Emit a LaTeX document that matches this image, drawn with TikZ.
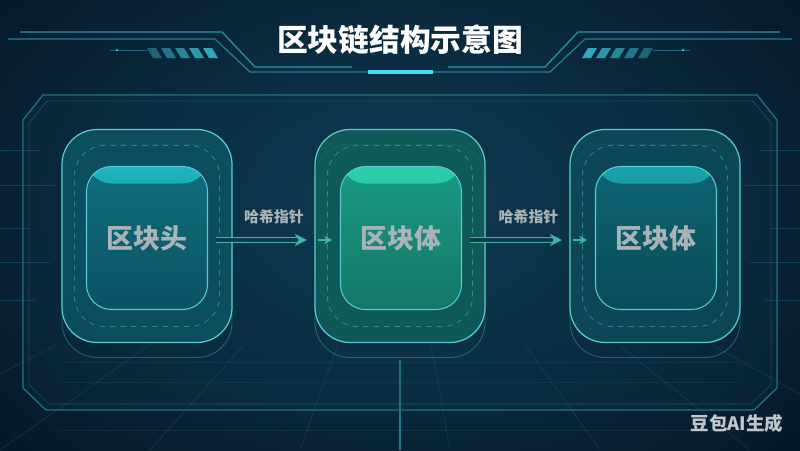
\documentclass[tikz,border=0pt]{standalone}
\usepackage{fontspec}
\setmainfont{Noto Sans CJK SC}
\usetikzlibrary{arrows.meta}
\definecolor{bgdark}{HTML}{06192A}
\definecolor{bgmid}{HTML}{0E3B52}
\definecolor{framecol}{HTML}{2A93AA}
\definecolor{barcol}{HTML}{45DDEB}
\definecolor{panelcol}{HTML}{1F7386}
\definecolor{ptrcol}{HTML}{3DB5A6}
\definecolor{labcol}{HTML}{AAB3B7}
\definecolor{hdrtop}{HTML}{0F6E7B}
\definecolor{hdrbot}{HTML}{0B5263}
\definecolor{hdrband}{HTML}{1CB5BF}
\definecolor{hdrout}{HTML}{0D5464}
\definecolor{bdytop}{HTML}{1B9A84}
\definecolor{bdybot}{HTML}{137766}
\definecolor{bdyband}{HTML}{2BD0AC}
\definecolor{bdyout}{HTML}{10605C}
\definecolor{edgecol}{HTML}{57CBD2}
\begin{document}
\begin{tikzpicture}[x=0.02cm,y=-0.02cm,
  outerbox/.style={minimum width=3.4cm,minimum height=4.26cm,rounded corners=0.7cm,
    draw=edgecol,line width=0.7pt,fill=#1,fill opacity=0.85},
  shadowbox/.style={minimum width=3.4cm,minimum height=4.26cm,rounded corners=0.7cm,
    draw=edgecol,draw opacity=0.35,line width=0.5pt},
  dashbox/.style={minimum width=2.9cm,minimum height=3.62cm,rounded corners=0.6cm,
    draw=edgecol,draw opacity=0.45,dashed,line width=0.5pt},
  innerbox/.style 2 args={minimum width=2.42cm,minimum height=2.86cm,rounded corners=0.5cm,
    draw=edgecol,line width=0.6pt,top color=#1,bottom color=#2,
    text=labcol,font=\bfseries\fontsize{15.3}{18}\selectfont},
  band/.style 2 args={path picture={\shade[top color=#1,bottom color=#2]
    (path picture bounding box.north west)
    rectangle ([yshift=-0.34cm]path picture bounding box.north east);}},
  ptr/.style={draw=ptrcol,line width=0.7pt,double=bgmid,double distance=2.2pt},
  tip/.style={draw=ptrcol,fill=ptrcol,line width=0.7pt,-{Stealth[length=7pt,width=7pt]}},
  smalltip/.style={draw=ptrcol,line width=0.8pt,-{Stealth[length=4.5pt,width=5pt]}},
  ptrlabel/.style={text=labcol,font=\bfseries\fontsize{8.5}{10}\selectfont},
  gridline/.style={draw=framecol,line width=0.4pt,opacity=0.22}]
\useasboundingbox (0,0) rectangle (800,450);
% background
\fill[bgdark] (0,0) rectangle (800,450);
\shade[inner color=bgmid,outer color=bgdark] (-120,-150) rectangle (920,560);
% floor grid
\begin{scope}
\clip (0,345) rectangle (800,450);
\foreach \x in {-900,-750,...,1700}
  \draw[gridline] (400,170) -- (\x,450);
\foreach \y in {362,382,404,430}
  \draw[gridline,opacity=0.14] (60,\y) -- (740,\y);
\draw[draw=barcol,opacity=0.45,line width=0.6pt] (400,360) -- (400,450);
\end{scope}
% side streaks
\foreach \y/\l in {150/40,185/55,228/30,262/50,300/35}{
  \draw[draw=framecol,opacity=0.3,line width=0.4pt] (0,\y) -- (\l,\y);
  \draw[draw=framecol,opacity=0.3,line width=0.4pt] (800,\y) -- (800-\l,\y);
}
% title frame
\begin{scope}[shift={(400,0)}]
\foreach \s in {1,-1}{
  \begin{scope}[xscale=\s]
  \draw[framecol,line width=0.7pt] (-380,32) -- (-178,32) -- (-145,67) -- (-48,67);
  \draw[framecol,line width=0.7pt,opacity=0.8] (-392,39) -- (-185,39) -- (-150,72) -- (-32,72);
  \foreach \i in {0,...,4}
    \fill[framecol!60!barcol,opacity=0.45+0.12*\i]
      (-253+14*\i,48) -- (-244+14*\i,48) -- (-238+14*\i,58) -- (-247+14*\i,58) -- cycle;
  \draw[framecol,opacity=0.6,line width=0.4pt] (-290,50) -- (-253,50);
  \fill[barcol,opacity=0.7] (-283,50) circle [radius=1.3];
  \end{scope}
}
\fill[barcol] (-32,70) rectangle (33,74);
\end{scope}
\node[text=white,font=\bfseries\fontsize{17.5}{20}\selectfont] (title) at (400,40) {区块链结构示意图};
% main panel
\draw[panelcol,line width=0.7pt,fill=bgmid,fill opacity=0.2]
  (43,95) -- (757,95) -- (777,120) -- (777,388) -- (754,410) -- (46,410) -- (23,388) -- (23,120) -- cycle;
\draw[panelcol,line width=0.4pt,opacity=0.5]
  (47,101) -- (753,101) -- (771,123) -- (771,385) -- (751,404) -- (49,404) -- (29,385) -- (29,123) -- cycle;
% blocks
\node[shadowbox] (hdrshadow) at (147,251) {};
\node[shadowbox] (body1shadow) at (400,251) {};
\node[shadowbox] (body2shadow) at (655,251) {};
\node[outerbox=hdrout] (hdrouter) at (147,236) {};
\node[outerbox=bdyout] (body1outer) at (400,236) {};
\node[outerbox=hdrout!90!black] (body2outer) at (655,236) {};
\node[dashbox] at (hdrouter) {};
\node[dashbox] at (body1outer) {};
\node[dashbox] at (body2outer) {};
\node[innerbox={hdrtop}{hdrbot},band={hdrband}{hdrtop}] (hdr) at (147,238) {区块头};
\node[innerbox={bdytop}{bdybot},band={bdyband}{bdytop}] (body1) at (401,238) {区块体};
\node[innerbox={hdrtop!92!black}{hdrbot!92!black},band={hdrband!90!black}{hdrtop!92!black}] (body2) at (656,238) {区块体};
% hash pointers
\foreach \a/\b in {hdr/body1,body1/body2}{
  \coordinate (\a s) at ([xshift=0.16cm,yshift=-0.04cm]\a.east);
  \coordinate (\a e) at ([xshift=-0.16cm,yshift=-0.04cm]\b.west);
  \draw[ptr] (\a s) -- ([xshift=-0.62cm]\a e);
  \draw[tip] ([xshift=-0.64cm]\a e) -- ([xshift=-0.5cm]\a e);
  \draw[smalltip] ([xshift=-0.28cm]\a e) -- (\a e);
  \path (\a s) -- (\a e) node[ptrlabel,midway,above=0.2cm] (\a lab) {哈希指针};
}
% watermark
\node[text=white,opacity=0.75,font=\bfseries\fontsize{10.5}{12}\selectfont] (mark) at (737,423) {豆包AI生成};
\end{tikzpicture}
\end{document}
